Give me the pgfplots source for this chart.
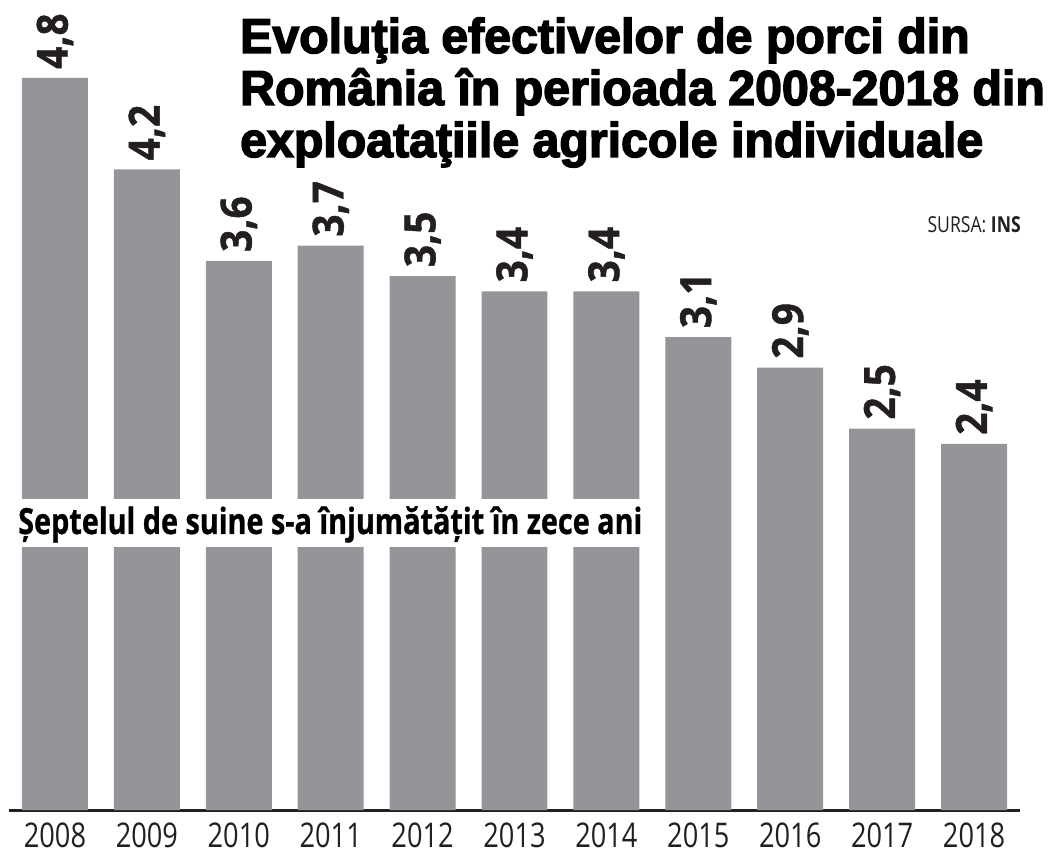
\documentclass[border=0pt]{standalone}
\usepackage{fontspec}
\usepackage{pgfplots}
\usepackage{pgfplotstable}
\pgfplotsset{compat=1.18}
\setmainfont{Open Sans}
\newfontfamily\titlefont{Liberation Sans}[UprightFont={* Bold}, FakeStretch=0.985, FakeBold=3]
\newfontfamily\yearfont{Open Sans}[FakeStretch=0.8]
\newfontfamily\valfont{Open Sans}[UprightFont={* Bold}, FakeStretch=0.9, FakeBold=1]
\newfontfamily\subfont{Open Sans}[UprightFont={* Bold}, FakeStretch=0.8, FakeBold=0.8]
\newfontfamily\srcfont{Open Sans}[FakeStretch=0.8]
\definecolor{barg}{HTML}{939598}
\definecolor{ink}{HTML}{231F20}

\pgfplotstableread{
x y lab
0 4.8 {4,8}
1 4.2 {4,2}
2 3.6 {3,6}
3 3.7 {3,7}
4 3.5 {3,5}
5 3.4 {3,4}
6 3.4 {3,4}
7 3.1 {3,1}
8 2.9 {2,9}
9 2.5 {2,5}
10 2.4 {2,4}
}\data

\begin{document}
\begin{tikzpicture}
\useasboundingbox (-9pt,-45pt) rectangle (1041pt,810pt);
\begin{axis}[
  scale only axis,
  width=1011pt, height=810pt,
  xmin=-0.5, xmax=10.5,
  ymin=0, ymax=5.3115,
  ybar, bar width=0.718,
  hide y axis,
  axis x line*=bottom,
  x axis line style={-, line width=3pt, color=ink},
  xtick={0,...,10},
  xticklabels={2008,2009,2010,2011,2012,2013,2014,2015,2016,2017,2018},
  major tick length=0pt,
  xticklabel style={font=\yearfont\fontsize{34}{34}\selectfont, text=ink, anchor=north, inner sep=0pt, yshift=-13pt},
  point meta=explicit symbolic,
  nodes near coords,
  every node near coord/.append style={font=\valfont\fontsize{43}{43}\selectfont, text=ink, rotate=90, anchor=west, inner xsep=9pt, inner ysep=0pt},
  clip=false,
]
\addplot[fill=barg, draw=none] table[x=x, y=y, meta=lab] \data;
\end{axis}
% subtitle band
\node[fill=white, inner sep=0pt, minimum width=654pt, minimum height=48pt, anchor=north west] at (-9pt, 311pt) {};
\node[anchor=base west, inner sep=0pt, text=black] at (9pt, 276pt) {\subfont\fontsize{36}{36}\selectfont Șeptelul de suine s-a înjumătățit în zece ani};
% title
\node[anchor=base west, inner sep=0pt] at (231pt, 757pt) {\titlefont\fontsize{49}{49}\selectfont Evoluţia efectivelor de porci din};
\node[anchor=base west, inner sep=0pt] at (231pt, 705pt) {\titlefont\fontsize{49}{49}\selectfont România în perioada 2008-2018 din};
\node[anchor=base west, inner sep=0pt] at (231pt, 653pt) {\titlefont\fontsize{49}{49}\selectfont exploataţiile agricole individuale};
% source
\node[anchor=base east, inner sep=0pt, text=ink] at (1012pt, 577pt) {\srcfont\fontsize{22}{22}\selectfont SURSA: \textbf{INS}};
\end{tikzpicture}
\end{document}
